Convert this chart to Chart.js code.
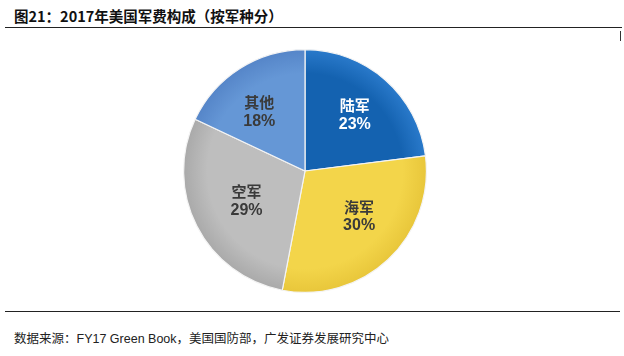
<!DOCTYPE html>
<html><head><meta charset="utf-8">
<script src="https://cdn.jsdelivr.net/npm/chart.js@4"></script>
<style>
html,body{margin:0;padding:0;background:#fff;width:624px;height:356px;overflow:hidden;position:relative;font-family:"Noto Sans CJK SC","Noto Sans",sans-serif;}
#title{position:absolute;left:14px;top:5px;font-size:14.5px;font-weight:bold;color:#111;}
#line1{position:absolute;left:5px;top:27px;width:617px;height:0;border-top:1.5px solid #222;}
#tick{position:absolute;left:620px;top:31px;width:0;height:10px;border-left:1px solid #333;}
#line2{position:absolute;left:5px;top:311px;width:615px;height:0;border-top:1.5px solid #222;}
#src{position:absolute;left:14px;top:328px;font-size:12.5px;color:#222;}
#src .en{font-family:"Liberation Sans",Arial,sans-serif;}
#wrap{position:absolute;left:181px;top:47px;width:248px;height:248px;}
</style></head><body>
<div id="title">图21：2017年美国军费构成（按军种分）</div>
<div id="line1"></div><div id="tick"></div>
<div id="wrap"><canvas id="c" width="248" height="248"></canvas></div>
<div id="line2"></div>
<div id="src">数据来源：<span class="en">FY17 Green Book</span>，美国国防部，广发证券发展研究中心</div>
<script>
const categories = ["陆军","海军","空军","其他"];
const shares = [23, 30, 29, 18];
const sliceColors = ["#1462B0","#F3D54A","#BEBEBE","#6597D6"];
const edgeColors = ["#2A7ACB","#E8C63A","#A9A9A9","#5585C8"];
const labelColors = ["#ffffff","#3a3a3a","#3a3a3a","#3a3a3a"];
const labelRadius = [0.62, 0.58, 0.54, 0.62];
const labelAngleShift = [0, -7, 0, -5];

const labelPlugin = {
  id:'lbl',
  afterDatasetsDraw(chart){
    const ctx = chart.ctx;
    const meta = chart.getDatasetMeta(0);
    meta.data.forEach((arc,i)=>{
      const a = (arc.startAngle+arc.endAngle)/2 + labelAngleShift[i]*Math.PI/180;
      const r = arc.outerRadius*labelRadius[i];
      const x = arc.x + Math.cos(a)*r;
      const y = arc.y + Math.sin(a)*r;
      ctx.save();
      ctx.fillStyle = labelColors[i];
      ctx.textAlign='center';ctx.textBaseline='middle';
      ctx.font = 'bold 15px "Noto Sans CJK SC", sans-serif';
      ctx.fillText(categories[i], x, y-9);
      ctx.font = 'bold 16px "Liberation Sans", Arial, sans-serif';
      ctx.fillText(shares[i]+'%', x, y+10);
      ctx.restore();
    });
  }
};

function grad(ctx, i){
  const chart = ctx.chart;
  const area = chart.chartArea;
  if(!area) return sliceColors[i];
  const cx=(area.left+area.right)/2, cy=(area.top+area.bottom)/2;
  const r=Math.min(area.right-area.left, area.bottom-area.top)/2;
  const g = chart.ctx.createRadialGradient(cx,cy,0,cx,cy,r);
  g.addColorStop(0, sliceColors[i]);
  g.addColorStop(0.8, sliceColors[i]);
  g.addColorStop(1, edgeColors[i]);
  return g;
}

new Chart(document.getElementById('c'),{
  type:'pie',
  data:{labels:categories,datasets:[{data:shares,
    backgroundColor:(ctx)=>grad(ctx, ctx.dataIndex),
    borderColor:'#f4f4f4',borderWidth:1.2}]},
  options:{responsive:false,animation:false,rotation:0,
    layout:{padding:2},
    plugins:{legend:{display:false},tooltip:{enabled:false}}},
  plugins:[labelPlugin]
});
</script>
</body></html>
